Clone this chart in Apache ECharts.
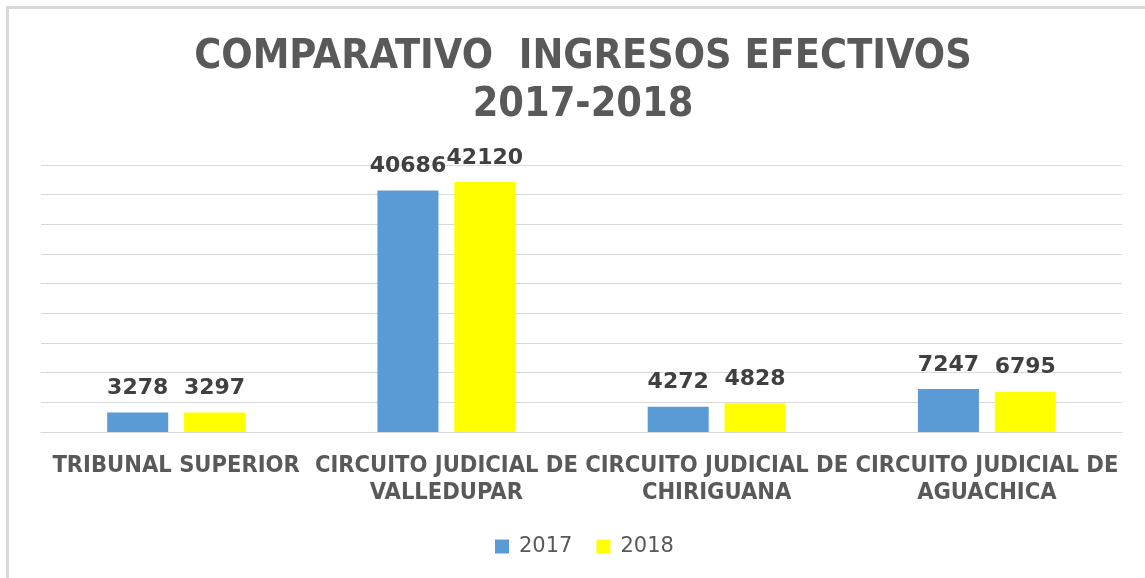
<!DOCTYPE html>
<html>
<head>
<meta charset="utf-8">
<script src="https://cdn.jsdelivr.net/npm/echarts@6/dist/echarts.min.js"></script>
<style>
	html, body { margin: 0; padding: 0; background: #fff; overflow: hidden; }
	#frame { position: absolute; left: 6px; top: 6px; width: 1200px; height: 640px; border-left: 3px solid #d9d9d9; border-top: 3px solid #d9d9d9; }
	#chart { position: absolute; left: 0; top: 0; width: 1145px; height: 578px; }
</style>
</head>
<body>
<div id="frame"></div>
<div id="chart"></div>
<script>
// 카테고리
var categories = ['TRIBUNAL SUPERIOR', 'CIRCUITO JUDICIAL DE\nVALLEDUPAR', 'CIRCUITO JUDICIAL DE\nCHIRIGUANA', 'CIRCUITO JUDICIAL DE\nAGUACHICA'];
// 2017 값
var values2017 = [3278, 40686, 4272, 7247];
// 2018 값
var values2018 = [3297, 42120, 4828, 6795];

var titleFont = '"Liberation Sans Narrow", "DejaVu Sans Condensed", sans-serif';

var chart = echarts.init(document.getElementById('chart'));

var labelStyle = {
	show: true,
	position: 'top',
	distance: 13,
	color: '#404040',
	fontFamily: '"DejaVu Sans", sans-serif',
	fontWeight: 'bold',
	fontSize: 22
};

chart.setOption({
	animation: false,
	backgroundColor: 'transparent',
	title: {
		text: 'COMPARATIVO  INGRESOS EFECTIVOS\n2017-2018',
		left: 578,
		top: 28,
		textAlign: 'center',
		textStyle: {
			color: '#595959',
			fontFamily: titleFont,
			fontWeight: 'bold',
			fontSize: 41,
			lineHeight: 48
		}
	},
	legend: {
		data: ['2017', '2018'],
		left: 490,
		top: 531,
		icon: 'rect',
		itemWidth: 14,
		itemHeight: 14,
		itemGap: 24,
		textStyle: { color: '#595959', fontFamily: '"DejaVu Sans", sans-serif', fontSize: 21, padding: [0, 0, 0, 5] }
	},
	grid: { left: 41, right: 23, top: 165, bottom: 146, containLabel: false },
	xAxis: {
		type: 'category',
		data: categories,
		axisLine: { show: true, lineStyle: { color: '#d9d9d9', width: 1 } },
		axisTick: { show: false },
		axisLabel: {
			interval: 0,
			margin: 20,
			color: '#595959',
			fontFamily: titleFont,
			fontWeight: 'bold',
			fontSize: 23.5,
			lineHeight: 27
		}
	},
	yAxis: {
		type: 'value',
		min: 0,
		max: 45000,
		interval: 5000,
		axisLabel: { show: false },
		axisLine: { show: false },
		axisTick: { show: false },
		splitLine: { lineStyle: { color: '#d9d9d9', width: 1 } }
	},
	series: [{
		name: '2017',
		type: 'bar',
		data: values2017,
		barWidth: 61,
		barGap: '26%',
		itemStyle: { color: '#5b9bd5' },
		label: labelStyle
	}, {
		name: '2018',
		type: 'bar',
		data: values2018,
		barWidth: 61,
		itemStyle: { color: '#ffff00' },
		label: labelStyle
	}]
});
</script>
</body>
</html>
